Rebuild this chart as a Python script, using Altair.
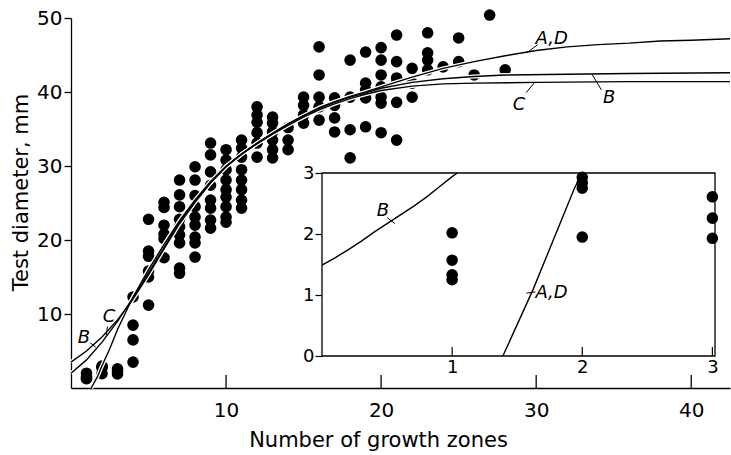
import altair as alt
import pandas as pd

# ---------------- main scatter: test diameter by number of growth zones
zones = list(range(1, 29))
diam_by_zone = [
    [2.0, 1.55, 1.3, 1.25],
    [2.95, 2.85, 2.75, 1.95],
    [2.6, 2.25, 1.9],
    [12.3, 8.5, 6.5, 3.5],
    [22.8, 18.5, 17.8, 15.8, 15.0, 11.2],
    [25.1, 24.4, 22.0, 20.8, 20.2, 17.6],
    [28.1, 26.1, 24.5, 22.8, 21.8, 20.7, 19.6, 16.2, 15.5],
    [29.9, 28.1, 26.0, 24.5, 23.1, 22.0, 20.4, 19.6, 17.7],
    [33.1, 31.5, 29.2, 27.4, 25.4, 24.3, 22.7, 21.6],
    [32.2, 30.8, 29.5, 28.1, 26.8, 25.8, 24.5, 23.1, 22.4],
    [33.5, 32.4, 31.2, 29.5, 28.1, 26.8, 25.4, 24.3],
    [38.0, 36.9, 35.9, 34.5, 33.1, 31.2],
    [36.6, 35.8, 34.6, 33.5, 32.2, 31.1],
    [35.2, 33.5, 32.2],
    [39.3, 38.2, 36.9, 35.8],
    [46.1, 42.3, 39.3, 38.0, 36.2],
    [39.2, 38.2, 36.5, 34.6],
    [44.3, 39.3, 34.9, 31.1],
    [45.4, 41.2, 40.3, 39.2, 35.3],
    [46.0, 44.3, 42.3, 40.7, 39.3, 38.5, 34.5],
    [47.7, 44.1, 41.9, 41.2, 38.6, 33.5],
    [43.2, 41.2, 39.3],
    [48.0, 45.3, 44.3, 43.0],
    [43.4],
    [47.3, 44.1],
    [42.3],
    [50.4],
    [43.0],
]

# ---------------- fitted curves (main)
ad_x = [1.3, 1.7, 2.0, 2.5, 3, 4, 5, 6, 7, 8, 9, 10, 11, 12, 13, 14, 15, 16, 17, 18, 19,
        20, 22, 24, 26, 28, 30, 32, 34, 36, 38, 40, 42.5]
ad_y = [0, 1.5, 3.0, 5.3, 7.9, 12.3, 16.0, 19.4, 22.6, 25.4, 27.9, 30.0, 31.6, 33.1, 34.4,
        35.7, 36.8, 37.9, 38.7, 39.4, 40.0, 40.7, 42.0, 43.2, 44.1, 44.9, 45.6, 46.1, 46.4,
        46.6, 46.9, 47.0, 47.2]
b_x = [0, 1, 2, 3, 4, 5, 6, 7, 8, 9, 10, 11, 12, 13, 14, 15, 16, 17, 18, 19, 20, 22, 24,
       26, 28, 32, 36, 42.5]
b_y = [3.5, 5.0, 6.9, 9.2, 12.0, 15.3, 18.8, 22.2, 25.1, 27.7, 29.9, 31.6, 33.1, 34.4, 35.7,
       36.8, 37.8, 38.6, 39.3, 39.9, 40.5, 41.3, 41.8, 42.1, 42.3, 42.4, 42.5, 42.6]
c_x = [0, 1, 2, 3, 4, 5, 6, 7, 8, 9, 10, 11, 12, 13, 14, 15, 16, 17, 18, 19, 20, 22, 24,
       26, 30, 36, 42.5]
c_y = [2.0, 3.8, 6.2, 9.0, 12.2, 15.6, 19.0, 22.4, 25.2, 27.8, 29.9, 31.6, 33.0, 34.3, 35.5,
       36.6, 37.6, 38.4, 39.1, 39.7, 40.2, 40.8, 41.1, 41.2, 41.3, 41.4, 41.4]

# curve labels (main) and leader lines
lab_text = ["A,D", "B", "C", "B", "C"]
lab_x = [31.0, 34.7, 28.9, 0.84, 2.45]
lab_y = [47.2, 39.2, 38.2, 6.8, 9.6]
lead_x = [30.1, 34.2, 29.35, 1.25, 2.35]
lead_y = [46.4, 40.3, 39.9, 6.1, 8.3]
lead_x2 = [29.4, 33.6, 29.9, 1.6, 2.27]
lead_y2 = [45.3, 42.4, 41.3, 5.5, 7.1]

x_ticks = [10, 20, 30, 40]
y_ticks = [10, 20, 30, 40, 50]

# ---------------- inset (first three growth zones)
ins_x = [1, 1, 1, 1, 2, 2, 2, 2, 3, 3, 3]
ins_y = [2.02, 1.57, 1.33, 1.25, 2.93, 2.84, 2.75, 1.95, 2.61, 2.26, 1.93]
ins_b_x = [0, 0.1, 0.2, 0.3, 0.4, 0.5, 0.6, 0.7, 0.8, 0.9, 1.0, 1.04]
ins_b_y = [1.49, 1.61, 1.74, 1.88, 2.03, 2.17, 2.31, 2.45, 2.6, 2.77, 2.94, 3.0]
ins_ad_x = [1.39, 1.62, 1.94, 2.0]
ins_ad_y = [0, 1.08, 2.75, 3.0]
ins_lab_text = ["B", "A,D"]
ins_lab_x = [0.42, 1.64]
ins_lab_y = [2.38, 1.03]
ins_lead_x = [0.50, 1.57]
ins_lead_y = [2.27, 1.03]
ins_lead_x2 = [0.56, 1.64]
ins_lead_y2 = [2.17, 1.05]
ins_x_ticks = [1, 2, 3]
ins_y_ticks = [0, 1, 2, 3]
ins_x_dom = [0, 3.02]
ins_y_dom = [0, 3]

# ---------------- tables
pts = pd.DataFrame(
    [(z, d) for z, ds in zip(zones, diam_by_zone) for d in ds], columns=["x", "y"]
)
curves = pd.concat([
    pd.DataFrame({"x": ad_x, "y": ad_y, "curve": "A,D"}),
    pd.DataFrame({"x": b_x, "y": b_y, "curve": "B"}),
    pd.DataFrame({"x": c_x, "y": c_y, "curve": "C"}),
])
labels = pd.DataFrame({"x": lab_x, "y": lab_y, "t": lab_text})
leads = pd.DataFrame({"x": lead_x, "y": lead_y, "x2": lead_x2, "y2": lead_y2})
xt = pd.DataFrame({"x": x_ticks})

ipts = pd.DataFrame({"x": ins_x, "y": ins_y})
icurves = pd.concat([
    pd.DataFrame({"x": ins_b_x, "y": ins_b_y, "curve": "B"}),
    pd.DataFrame({"x": ins_ad_x, "y": ins_ad_y, "curve": "A,D"}),
])
ilabels = pd.DataFrame({"x": ins_lab_x, "y": ins_lab_y, "t": ins_lab_text})
ileads = pd.DataFrame({"x": ins_lead_x, "y": ins_lead_y, "x2": ins_lead_x2, "y2": ins_lead_y2})
ixt = pd.DataFrame({"x": ins_x_ticks})
iframe = pd.DataFrame({"x": [ins_x_dom[0]], "x2": [ins_x_dom[1]],
                       "y": [ins_y_dom[0]], "y2": [ins_y_dom[1]]})

# ---------------- layout
W, H = 659, 370
FONT = "DejaVu Sans"

xs = alt.Scale(domain=[0, 42.5], nice=False, zero=False)
ys = alt.Scale(domain=[0, 50], nice=False, zero=False)
IX0, IX1, IY0, IY1 = 251, 644, 338, 155
ixs = alt.Scale(domain=ins_x_dom, range=[IX0, IX1], nice=False, zero=False)
iys = alt.Scale(domain=ins_y_dom, range=[IY0, IY1], nice=False, zero=False)

xaxis = alt.Axis(values=x_ticks, tickSize=0, labelPadding=12, domainColor="black",
                 domainWidth=1.3, labelFont=FONT, labelFontSize=20, labelColor="black",
                 title="Number of growth zones", titleFont=FONT, titleFontSize=21,
                 titleFontWeight="normal", titleColor="black", titleX=307, titleY=52,
                 titleBaseline="middle", grid=False)
yaxis = alt.Axis(values=y_ticks, tickSize=7, tickColor="black", tickWidth=1.3,
                 labelPadding=2, domainColor="black", domainWidth=1.3, labelFont=FONT,
                 labelFontSize=20, labelColor="black", title="Test diameter, mm",
                 titleFont=FONT, titleFontSize=21, titleFontWeight="normal",
                 titleColor="black", titleX=-50, titleY=174, titleBaseline="middle",
                 grid=False)
ixaxis = alt.Axis(values=ins_x_ticks, orient="bottom", offset=IY0 - H, domain=False,
                  tickSize=0, labelPadding=2, labelFont=FONT, labelFontSize=18,
                  labelColor="black", title=None, grid=False)
iyaxis = alt.Axis(values=ins_y_ticks, orient="left", offset=-IX0, domain=False,
                  tickSize=7, tickColor="black", tickWidth=1.2, labelPadding=1,
                  labelFont=FONT, labelFontSize=18, labelColor="black", title=None,
                  grid=False)

X = lambda: alt.X("x:Q", scale=xs, axis=xaxis)
Y = lambda: alt.Y("y:Q", scale=ys, axis=yaxis)
IXe = lambda: alt.X("x:Q", scale=ixs, axis=ixaxis)
IYe = lambda: alt.Y("y:Q", scale=iys, axis=iyaxis)

points = alt.Chart(pts).mark_circle(size=135, color="black", opacity=1).encode(x=X(), y=Y())
halo = alt.Chart(curves).mark_line(color="white", strokeWidth=4).encode(
    x=X(), y=Y(), detail="curve:N")
lines = alt.Chart(curves).mark_line(color="black", strokeWidth=1.4).encode(
    x=X(), y=Y(), detail="curve:N")
texts = alt.Chart(labels).mark_text(font=FONT, fontStyle="italic", fontSize=18,
                                    color="black").encode(x=X(), y=Y(), text="t:N")
leaders = alt.Chart(leads).mark_rule(color="black", strokeWidth=1).encode(
    x=X(), y=Y(), x2="x2:Q", y2="y2:Q")
xticks = alt.Chart(xt).mark_rule(color="black", strokeWidth=1.3).encode(
    x=X(), y=alt.value(H), y2=alt.value(H - 13))

main = alt.layer(points, halo, lines, texts, leaders, xticks)

frame = alt.Chart(iframe).mark_rect(fill="white", stroke="black", strokeWidth=1.3).encode(
    x=IXe(), x2="x2:Q", y=IYe(), y2="y2:Q")
ipoints = alt.Chart(ipts).mark_circle(size=135, color="black", opacity=1).encode(
    x=IXe(), y=IYe())
ilines = alt.Chart(icurves).mark_line(color="black", strokeWidth=1.4).encode(
    x=IXe(), y=IYe(), detail="curve:N")
itexts = alt.Chart(ilabels).mark_text(font=FONT, fontStyle="italic", fontSize=18,
                                      color="black", align="left").encode(
    x=IXe(), y=IYe(), text="t:N")
ileaders = alt.Chart(ileads).mark_rule(color="black", strokeWidth=1).encode(
    x=IXe(), y=IYe(), x2="x2:Q", y2="y2:Q")
ixticks = alt.Chart(ixt).mark_rule(color="black", strokeWidth=1.2).encode(
    x=IXe(), y=alt.value(IY0), y2=alt.value(IY0 - 9))

inset = alt.layer(frame, ipoints, ilines, itexts, ileaders, ixticks)

chart = (
    alt.layer(main, inset)
    .resolve_scale(x="independent", y="independent")
    .properties(width=W, height=H, background="white",
                padding={"left": 71, "top": 18, "right": 1, "bottom": 67},
                autosize=alt.AutoSizeParams(type="none"))
    .configure_view(stroke=None)
)

chart.save("out.html", embed_options={"renderer": "svg", "actions": False})
